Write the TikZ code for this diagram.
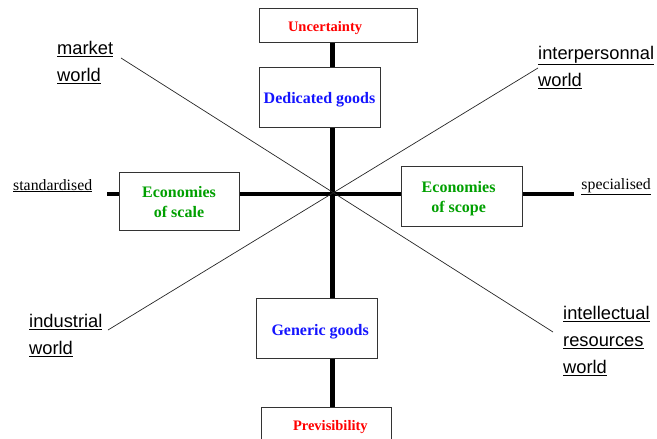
\documentclass[tikz,border=0pt]{standalone}
\usepackage{fontspec}
\setmainfont{Liberation Serif}
\newfontfamily\armfont{Liberation Sans}
\usetikzlibrary{backgrounds}
\definecolor{ured}{RGB}{255,0,0}
\definecolor{ublue}{RGB}{20,20,255}
\definecolor{ugreen}{RGB}{0,160,0}
\newcommand{\lowr}[2][2.5pt]{\raisebox{-#1}[\height][\depth]{#2}}
\begin{document}
\begin{tikzpicture}[x=1pt,y=-1pt,
  box/.style={draw=black!80,line width=0.9pt,fill=white,inner sep=0pt,align=center,font=\fontsize{16}{20}\selectfont\bfseries},
  redbox/.style={box,text=ured,font=\fontsize{14.5}{17}\selectfont\bfseries},
  world/.style={anchor=north west,align=left,inner sep=0pt,font=\armfont\fontsize{18.3}{27}\selectfont},
  side/.style={inner sep=0pt,font=\fontsize{15.8}{17}\selectfont},
  thin line/.style={line width=0.7pt,black!85},
  axis/.style={line width=#1,black}]
\useasboundingbox (0,0) rectangle (657,439);
\clip (0,0) rectangle (657,439);
\coordinate (c) at (332,193);
\node[redbox,minimum width=158pt,minimum height=34pt] (unc) at (338,25) {\lowr[3pt]{\hbox to 158pt{\hspace{29pt}Uncertainty\hfill}}};
\node[box,text=ublue,minimum width=121pt,minimum height=60pt] (ded) at (319.5,97.5) {\lowr{Dedicated goods}};
\node[box,text=ugreen,minimum width=120pt,minimum height=58pt] (scale) at (179,201) {\lowr{\begin{tabular}{@{}c@{}}Economies\\of scale\end{tabular}}};
\node[box,text=ugreen,minimum width=121pt,minimum height=60pt] (scope) at (462,196) {\lowr{\hbox to 121pt{\hfill\begin{tabular}{@{}c@{}}Economies\\of scope\end{tabular}\hspace{27pt}}}};
\node[box,text=ublue,minimum width=121pt,minimum height=60pt] (gen) at (317,328) {\lowr[3.5pt]{\hbox to 121pt{\hspace{15pt}Generic goods\hfill}}};
\node[redbox,minimum width=130pt,minimum height=38pt] (prev) at (326,426) {\lowr[1pt]{\hbox to 130pt{\hspace{32pt}Previsibility\hfill}}};
\node[side,anchor=base west] (std) at (13,190) {\underline{standardised}};
\node[side,anchor=base east] (spec) at (651,189) {\underline{specialised}};
\node[world] (mkt) at (57,41) {\underline{market}\\\underline{world}};
\node[world] (inter) at (538,46) {\underline{interpersonnal}\\\underline{world}};
\node[world] (ind) at (29,314) {\underline{industrial}\\\underline{world}};
\node[world] (intel) at (563,306) {\underline{intellectual}\\\underline{resources}\\\underline{world}};
\coordinate (a1) at (121,58);
\coordinate (a2) at (553,332);
\coordinate (b1) at (538,68);
\coordinate (b2) at (108,330);
\coordinate (hl) at (107,194);
\coordinate (hr) at (574,194);
\begin{scope}[on background layer]
\draw[axis=5pt] (c |- unc.south) -- (c |- prev.north);
\draw[axis=3.5pt] (hl) -- (hr);
\draw[thin line] (a1) -- (a2);
\draw[thin line] (b1) -- (b2);
\end{scope}
\end{tikzpicture}
\end{document}
